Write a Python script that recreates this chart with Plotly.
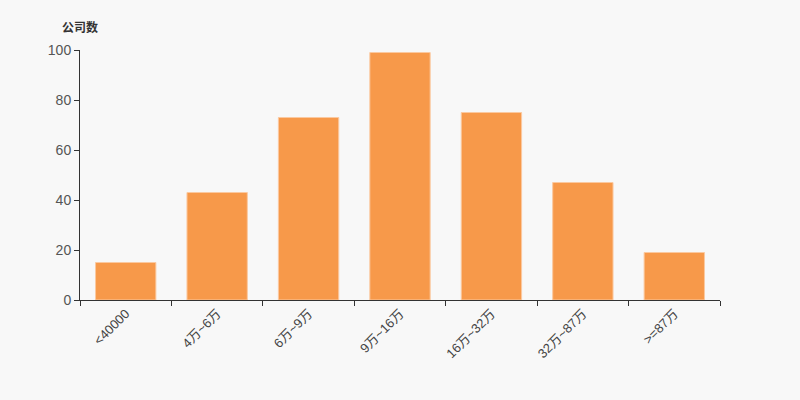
import plotly.graph_objects as go

categories = ["<40000", "4万~6万", "6万~9万", "9万~16万", "16万~32万", "32万~87万", ">=87万"]
counts = [15, 43, 73, 99, 75, 47, 19]
y_ticks = [0, 20, 40, 60, 80, 100]

font_family = "Liberation Sans, Arial, Noto Sans CJK SC, sans-serif"

fig = go.Figure(go.Bar(
    x=categories,
    y=counts,
    marker=dict(color="#F7994A", line=dict(color="#FBC9A0", width=1)),
    hoverinfo="x+y",
))

fig.update_layout(
    width=800, height=400,
    margin=dict(l=80, r=80, t=50, b=100),
    paper_bgcolor="#F8F8F8",
    plot_bgcolor="#F8F8F8",
    bargap=0.34,
    showlegend=False,
    font=dict(family=font_family, size=13, color="#333333"),
    xaxis=dict(
        type="category",
        showgrid=False,
        showline=True, linecolor="#333333", linewidth=1,
        ticks="outside", ticklen=5, tickcolor="#333333",
        tickson="boundaries",
        tickangle=-45,
        tickfont=dict(size=13, color="#444444"),
        zeroline=False,
    ),
    yaxis=dict(
        range=[0, 100],
        tickvals=y_ticks,
        showgrid=False,
        showline=True, linecolor="#333333", linewidth=1,
        ticks="outside", ticklen=5, tickcolor="#333333",
        tickfont=dict(size=14, color="#555555"),
        zeroline=False,
    ),
    annotations=[dict(
        text="<b>公司数</b>", x=0.0, y=100, xref="paper", yref="y",
        xanchor="right", xshift=20, yanchor="bottom", yshift=13, showarrow=False,
        font=dict(size=12, color="#333333", family="Noto Sans CJK SC, sans-serif"),
    )],
)

fig.write_html(
    "out.html",
    config={"displayModeBar": False},
    post_script="document.body.style.margin='0';document.body.style.overflow='hidden';",
)
